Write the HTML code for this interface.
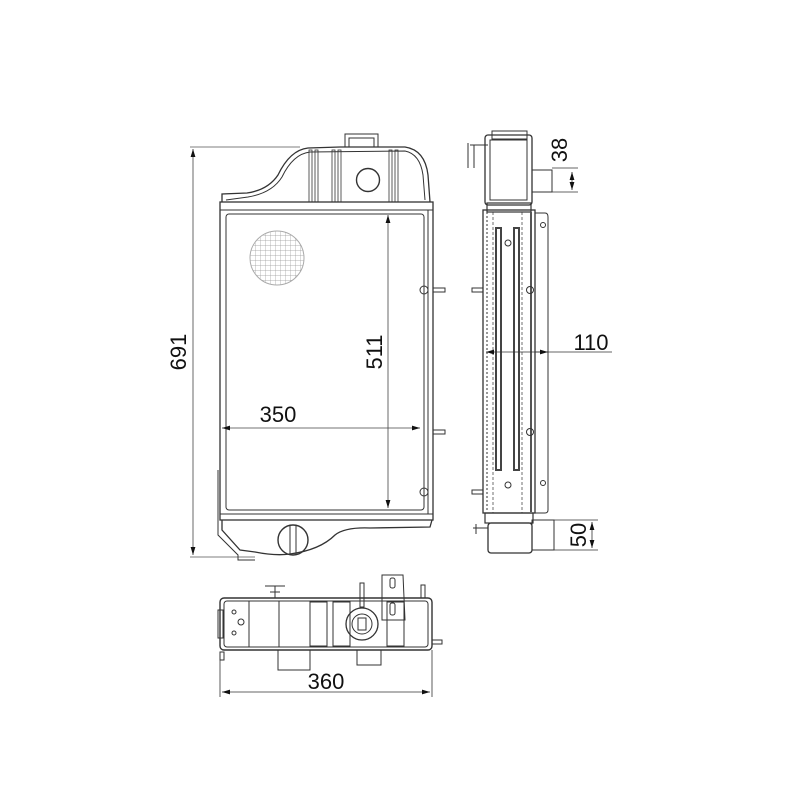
<!DOCTYPE html>
<html><head><style>
html,body{margin:0;padding:0;background:#fff;}
svg{display:block;}
text{font-family:"Liberation Sans",sans-serif;fill:#111;}
</style></head><body>
<svg width="800" height="800" viewBox="0 0 800 800" xmlns="http://www.w3.org/2000/svg">
<defs>
<marker id="a" viewBox="0 0 10 6" refX="10" refY="3" markerWidth="10" markerHeight="6" orient="auto-start-reverse"><path d="M0,0L10,3L0,6Z" fill="#111"/></marker>
<pattern id="g" width="5" height="5" patternUnits="userSpaceOnUse"><path d="M0,0H5M0,0V5" stroke="#999" stroke-width="0.7" fill="none"/></pattern>
</defs>
<g fill="none" stroke="#333" stroke-width="1">
<!-- FRONT VIEW -->
<line x1="190" y1="147" x2="300" y2="147" stroke="#555" stroke-width="0.8"/>
<line x1="190" y1="557" x2="255" y2="557" stroke="#555" stroke-width="0.8"/>
<line x1="193" y1="149" x2="193" y2="555" stroke="#444" stroke-width="0.8" marker-start="url(#a)" marker-end="url(#a)"/>
<path d="M222,202 L222,194 L247,193 Q268,190 278,175 Q290,150 308,148 L340,147 L405,147 Q425,150 428,175 L430,202" stroke-width="1.3"/>
<path d="M226,200 L248,197 Q272,193 282,177 Q293,154 310,152 L405,151 Q420,154 423,175 L425,200"/>
<rect x="345" y="134" width="33" height="13"/>
<rect x="349" y="138" width="25" height="9"/>
<circle cx="368" cy="180" r="11.5" stroke-width="1.4"/>
<g stroke-width="0.8">
<rect x="309" y="150" width="3" height="52"/><rect x="315" y="150" width="3" height="52"/>
<rect x="332" y="150" width="3" height="52"/><rect x="338" y="150" width="3" height="52"/>
<rect x="389" y="150" width="3" height="52"/><rect x="395" y="150" width="3" height="52"/>
</g>
<rect x="220" y="202" width="213" height="318" stroke-width="1.3"/>
<line x1="220" y1="210" x2="433" y2="210"/>
<line x1="220" y1="514" x2="433" y2="514"/>
<rect x="226" y="214" width="198" height="296" rx="3"/>
<line x1="428" y1="210" x2="428" y2="514"/>
<circle cx="277" cy="258" r="27" fill="url(#g)" stroke="#aaa"/>
<circle cx="424" cy="290" r="4"/><circle cx="424" cy="492" r="4"/>
<rect x="433" y="288" width="12" height="4"/><rect x="433" y="430" width="12" height="4"/>
<path d="M222,520 L222,530 L240,550 L255,552 Q275,556 290,554 Q320,550 335,535 Q345,527 370,528 L430,527 L432,520" stroke-width="1.3"/>
<path d="M218,470 L218,535 L238,555 L238,560 L255,560"/>
<circle cx="293" cy="540" r="15" stroke-width="1.4"/>
<line x1="290" y1="526" x2="290" y2="554"/><line x1="296" y1="526" x2="296" y2="554"/>
<line x1="388" y1="215" x2="388" y2="508" stroke="#444" stroke-width="0.8" marker-start="url(#a)" marker-end="url(#a)"/>
<line x1="222" y1="428" x2="420" y2="428" stroke="#444" stroke-width="0.8" marker-start="url(#a)" marker-end="url(#a)"/>
<!-- SIDE VIEW -->
<rect x="485" y="135" width="47" height="70" rx="3" stroke-width="1.3"/>
<rect x="490" y="140" width="37" height="60"/>
<rect x="492" y="131" width="35" height="8"/>
<path d="M470,145 L488,145 M468,143 L468,168 M474,145 L474,168"/>
<rect x="532" y="170" width="20" height="22"/>
<line x1="552" y1="168" x2="578" y2="168" stroke-width="0.8"/>
<line x1="552" y1="192" x2="578" y2="192" stroke-width="0.8"/>
<line x1="572" y1="172" x2="572" y2="190" stroke-width="0.8" marker-start="url(#a)" marker-end="url(#a)"/>
<rect x="487" y="203" width="44" height="9" stroke-width="1.2"/>
<rect x="483" y="210" width="52" height="303" stroke-width="1.3"/>
<path d="M535,213 L545,213 Q548,213 548,217 L548,510 Q548,513 545,513 L535,513"/>
<line x1="487" y1="212" x2="487" y2="512" stroke-dasharray="2,2"/>
<line x1="531" y1="212" x2="531" y2="512" stroke-width="2" stroke="#555"/>
<rect x="496" y="228" width="5" height="242" stroke-width="2" stroke="#444"/>
<rect x="514" y="228" width="5" height="242" stroke-width="2" stroke="#444"/>
<line x1="493" y1="212" x2="493" y2="513" stroke-dasharray="3,2" stroke-width="0.7"/>
<line x1="522" y1="212" x2="522" y2="513" stroke-dasharray="3,2" stroke-width="0.7"/>
<circle cx="508" cy="243" r="3"/><circle cx="508" cy="485" r="3"/>
<circle cx="530" cy="290" r="3.5"/><circle cx="530" cy="432" r="3.5"/>
<circle cx="543" cy="225" r="2.5"/><circle cx="543" cy="483" r="2.5"/>
<rect x="472" y="288" width="11" height="4"/><rect x="472" y="490" width="11" height="4"/>
<rect x="485" y="513" width="48" height="10" stroke-width="1.2"/>
<rect x="488" y="523" width="44" height="30" rx="3" stroke-width="1.3"/>
<path d="M473,528 L488,528 M476,524 L476,534"/>
<rect x="532" y="520" width="22" height="30"/>
<line x1="554" y1="520" x2="598" y2="520" stroke-width="0.8"/>
<line x1="554" y1="550" x2="598" y2="550" stroke-width="0.8"/>
<line x1="592" y1="522" x2="592" y2="548" stroke-width="0.8" marker-start="url(#a)" marker-end="url(#a)"/>
<line x1="486" y1="352" x2="612" y2="352" stroke-width="0.8" marker-start="url(#a)"/>
<line x1="535" y1="352" x2="548" y2="352" stroke-width="0.8" marker-end="url(#a)"/>
<!-- BOTTOM VIEW -->
<rect x="220" y="598" width="212" height="52" rx="4" stroke-width="1.4"/>
<rect x="224" y="601" width="204" height="46" rx="3"/>
<rect x="218" y="610" width="5" height="28"/>
<line x1="249" y1="601" x2="249" y2="647"/>
<line x1="279" y1="601" x2="279" y2="647"/>
<rect x="310" y="602" width="17" height="44"/><rect x="333" y="602" width="17" height="44"/>
<rect x="387" y="602" width="17" height="44"/>
<circle cx="234" cy="612" r="2"/><circle cx="241" cy="622" r="3"/><circle cx="234" cy="633" r="2"/>
<circle cx="362" cy="624" r="16" stroke-width="1.3"/><circle cx="362" cy="624" r="10"/>
<rect x="358" y="618" width="8" height="12"/>
<rect x="360" y="583" width="4" height="24"/>
<path d="M382,575 L403,575 L405,620 L382,620 Z"/>
<rect x="390" y="578" width="5" height="10" rx="2"/>
<rect x="390" y="603" width="5" height="12" rx="2"/>
<rect x="421" y="585" width="4" height="13"/>
<path d="M265,586 L285,586 M275,586 L275,598 M270,592 L280,592"/>
<rect x="278" y="650" width="32" height="20"/>
<rect x="357" y="650" width="24" height="15"/>
<rect x="432" y="640" width="10" height="4"/>
<rect x="220" y="652" width="4" height="8"/>
<line x1="220" y1="655" x2="220" y2="697" stroke-width="0.8"/>
<line x1="432" y1="650" x2="432" y2="697" stroke-width="0.8"/>
<line x1="222" y1="692" x2="430" y2="692" stroke-width="0.8" marker-start="url(#a)" marker-end="url(#a)"/>
</g>
<text x="278" y="428" font-size="22" text-anchor="middle" dy="-6">350</text>
<text transform="translate(386,352) rotate(-90)" font-size="22" text-anchor="middle" dy="-4">511</text>
<text transform="translate(190,352) rotate(-90)" font-size="22" text-anchor="middle" dy="-4">691</text>
<text x="591" y="350" font-size="22" text-anchor="middle">110</text>
<text transform="translate(571,150) rotate(-90)" font-size="22" text-anchor="middle" dy="-4">38</text>
<text transform="translate(590,535) rotate(-90)" font-size="22" text-anchor="middle" dy="-4">50</text>
<text x="326" y="689" font-size="22" text-anchor="middle">360</text>
</svg>
</body></html>
